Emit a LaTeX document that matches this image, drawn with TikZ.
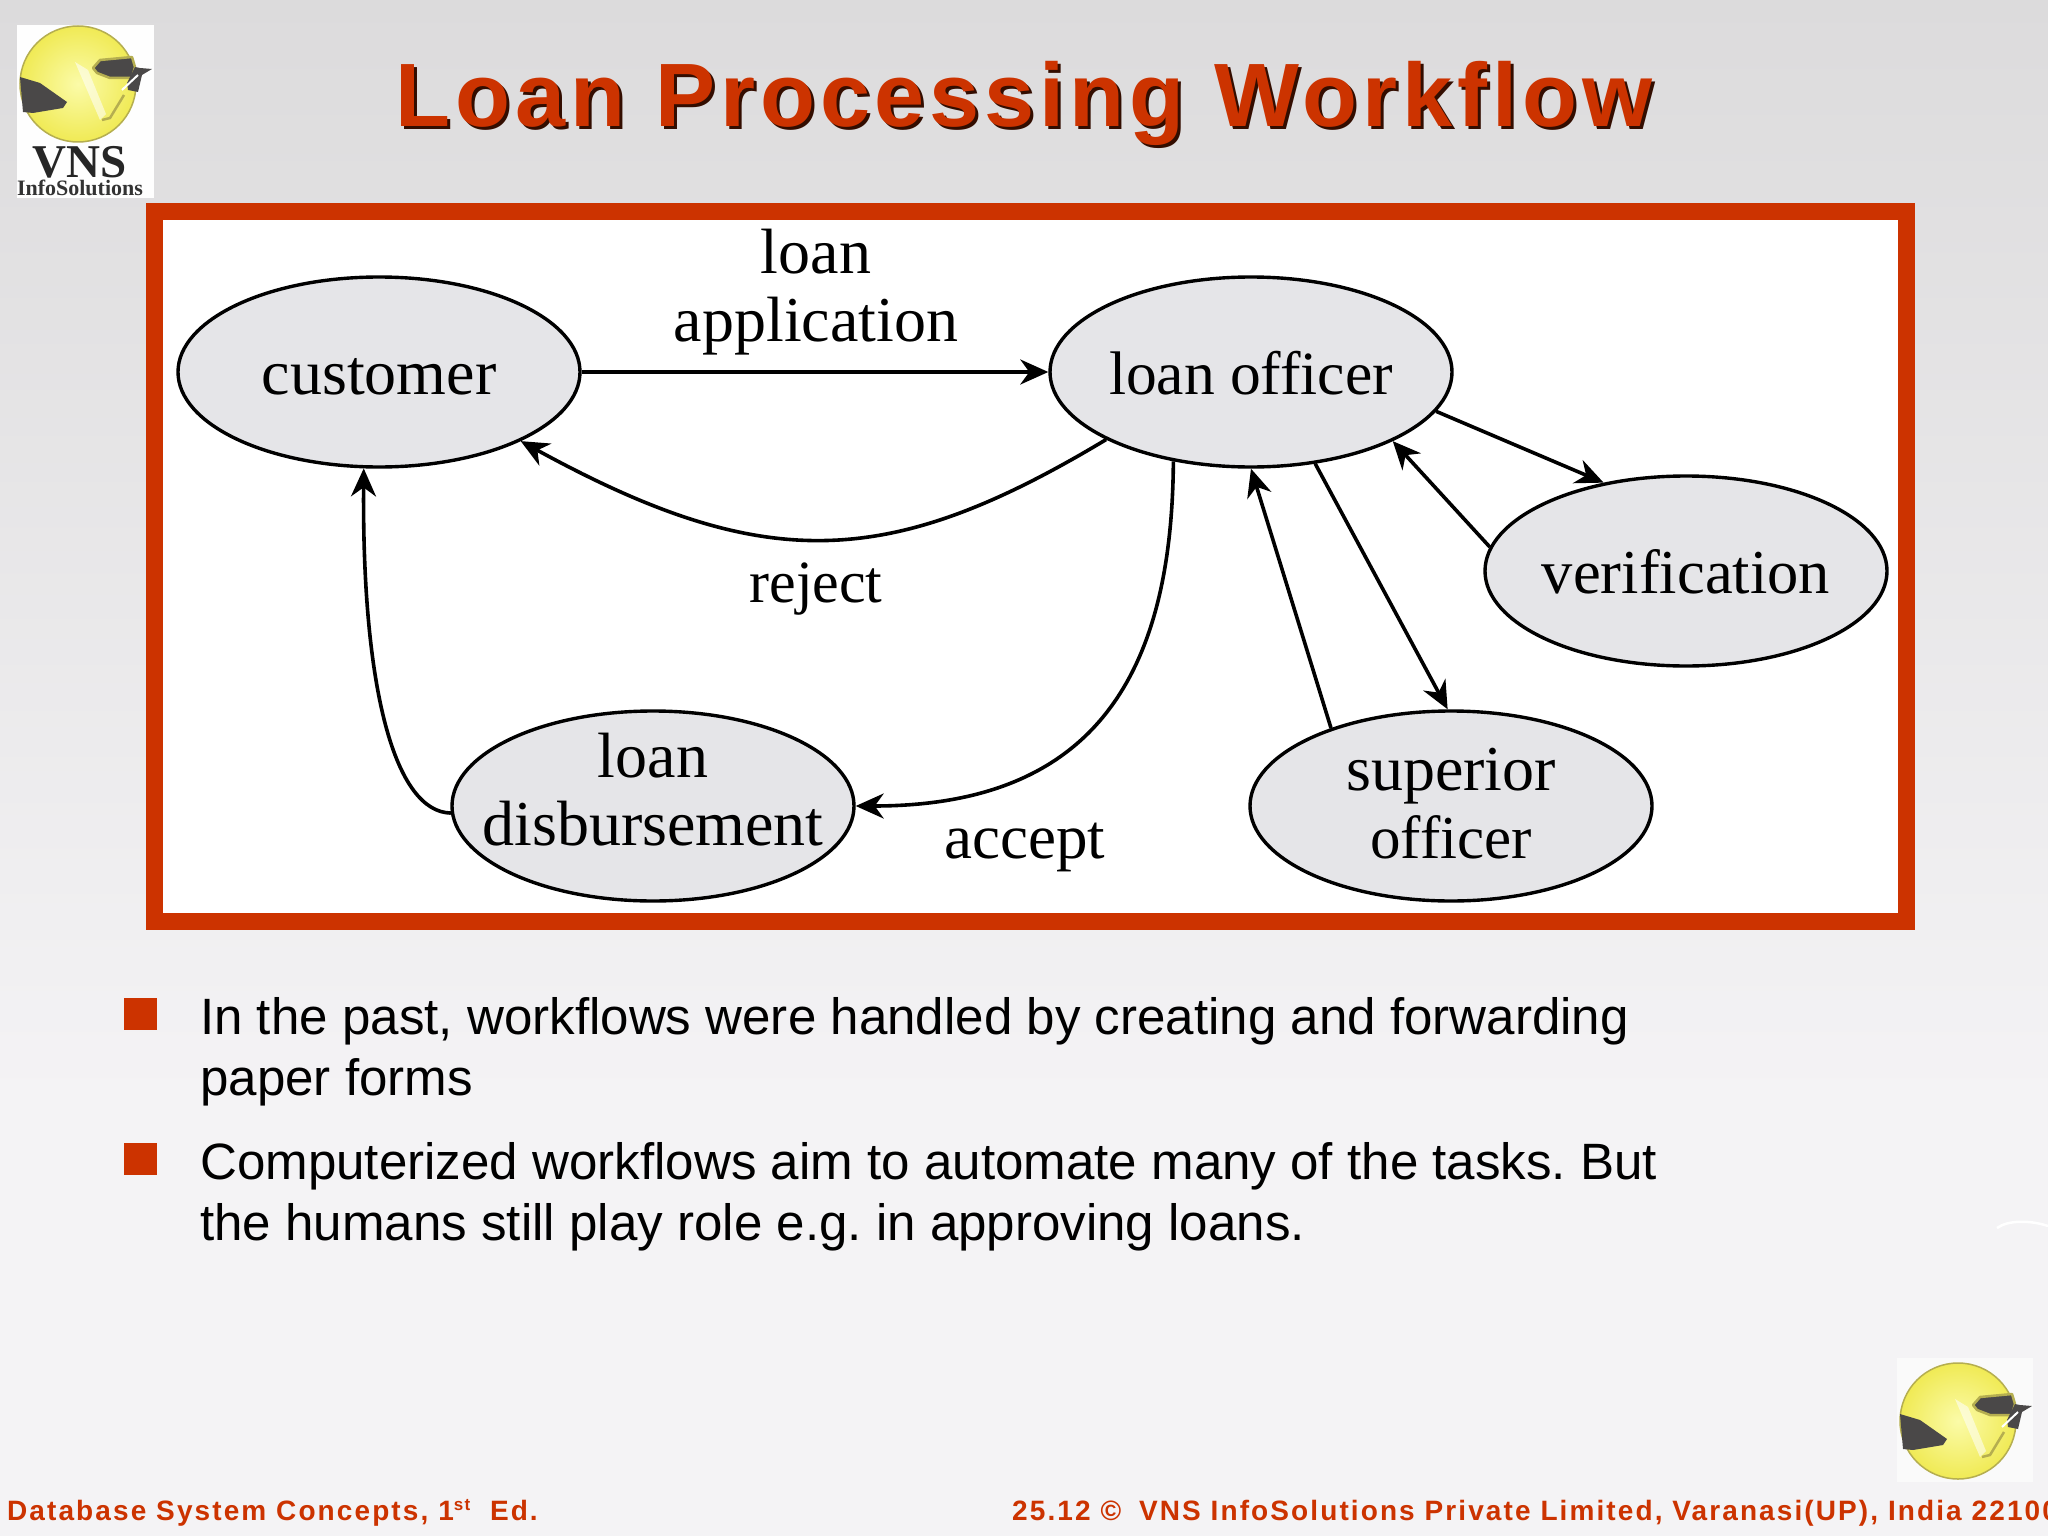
\documentclass[tikz,border=0pt]{standalone}
\usepackage{fontspec}
\usetikzlibrary{shapes.geometric,arrows.meta}
\setmainfont{Liberation Serif}
\newfontfamily\bodyfont{Liberation Sans}
\newfontfamily\titlefont[LetterSpace=5.45]{Liberation Sans}
\newfontfamily\footfont[LetterSpace=7.5]{Liberation Sans}
\definecolor{brick}{HTML}{CC3300}
\definecolor{ellfill}{HTML}{E5E5E8}
\definecolor{dimdark}{HTML}{4A4848}
\definecolor{bgtop}{HTML}{DCDBDC}
\definecolor{bgbottom}{HTML}{F4F3F5}
\definecolor{sunin}{HTML}{FBFBA8}
\definecolor{sunout}{HTML}{F0EA55}
\definecolor{sunedge}{HTML}{B5AE50}
\tikzset{
  state/.style={ellipse,draw=black,line width=3.4pt,fill=ellfill,minimum width=402pt,minimum height=190pt,inner xsep=-60pt,inner ysep=0pt,font=\fontsize{64}{68}\selectfont},
  tag/.style={anchor=base,inner sep=0pt,align=center,font=\fontsize{64}{68}\selectfont},
  flow/.style={line width=3.6pt,draw=black,-{Stealth[length=28pt,width=25pt,inset=9pt]}},
  bullettext/.style={anchor=north west,inner sep=0pt,align=left,font=\bodyfont\fontsize{51.1}{61.5}\selectfont,text=black},
  footer/.style={anchor=base west,inner sep=0pt,text=brick,font=\footfont\bfseries\fontsize{28}{32}\selectfont},
  bulletmark/.style={fill=brick}
}
% text lowered so that its last baseline lies #1 below the ellipse centre
\newcommand{\statetext}[2]{\raisebox{-#1}[0pt][0pt]{\parbox[b]{360pt}{\centering #2}}}
\newcommand{\vnsmark}[2]{%
\begin{scope}[shift={(#1,#2)}]
  \shade[inner color=sunin,outer color=sunout,draw=sunedge,line width=1.5pt] (78,84) circle (58);
  \fill[white,opacity=.55] (75,62) -- (88,70) -- (106,114) -- (100,120) -- cycle;
  \fill[dimdark] (20,77) -- (40,83) -- (67,102) -- (63,108) -- (33,113) -- (23,112) -- cycle;
  \draw[sunedge,line width=2.5pt,fill=dimdark,line join=round] (93,68) -- (100,60) -- (132,57) -- (135,67) -- (132,78) -- (110,78) -- (97,73) -- cycle;
  \fill[dimdark] (135,67) -- (140,68) -- (152,69) -- (142,75) -- (138,92) -- (128,90) -- (127,83) -- cycle;
  \draw[white,line width=2pt] (138,75) -- (122,90);
  \draw[sunedge,line width=2.5pt] (102,120) -- (110,118) -- (124,95);
\end{scope}}
\begin{document}
\frenchspacing
\begin{tikzpicture}[x=1pt,y=-1pt]
\useasboundingbox (0,0) rectangle (2048,1536);
% slide background
\shade[top color=bgtop,bottom color=bgbottom] (0,0) rectangle (2048,1100);
\fill[bgbottom] (0,1100) rectangle (2048,1536);
\draw[white,line width=2.5pt] (1997,1228) .. controls (2008,1220) and (2030,1220) .. (2048,1226);
% logos
\fill[white!90!bgbottom] (17,25) rectangle (154,198);
\fill[white!55!bgbottom] (1897,1358) rectangle (2033,1482);
\vnsmark{0}{0}
\vnsmark{1880}{1337}
\node[anchor=base,inner sep=0pt,text=black!85] (vnsname) at (80,178) {\fontsize{47}{47}\selectfont\bfseries VNS};
\node[anchor=base,inner sep=0pt,text=black!80] (vnssub) at (80,195) {\fontsize{22}{22}\selectfont\bfseries InfoSolutions};
% title
\node[anchor=base,inner sep=0pt,text=black!75!brick] (titleshadow) at (1027,130) {\titlefont\bfseries\fontsize{90}{100}\selectfont Loan Processing Workflow};
\node[anchor=base,inner sep=0pt,text=brick] (title) at (1024,127) {\titlefont\bfseries\fontsize{90}{100}\selectfont Loan Processing Workflow};
% frame
\fill[brick] (146,203) rectangle (1915,930);
\fill[white] (163,220) rectangle (1898,913);
% states
\node[state] (cu) at (379,372) {\statetext{22pt}{customer}};
\node[state] (lo) at (1251,372) {\statetext{22pt}{\fontsize{61.5}{68}\selectfont loan officer}};
\node[state] (ve) at (1686,571) {\statetext{22pt}{\fontsize{62.5}{68}\selectfont verification}};
\node[state] (su) at (1451,806) {\statetext{52pt}{superior\\{\fontsize{61}{68}\selectfont officer}}};
\node[state] (di) at (653,806) {\statetext{39pt}{loan\\disbursement}};
% connectors
\draw[flow] (cu.east) -- (lo.west);
\draw[flow] (lo.205) .. controls (889,570) and (765,575) .. (cu.334);
\draw[flow] (lo.229) .. controls (1172,680) and (1090,806) .. (di.east);
\draw[flow] (di.182) .. controls (395,812) and (362,690) .. (cu.261);
\draw[flow] (lo.348) -- (ve.133);
\draw[flow] (ve.173) -- (lo.334);
\draw[flow] (lo.305) -- (su.92);
\draw[flow] (su.147) -- (lo.270);
% labels
\node[tag] (lbapp) at (816,341) {loan\\application};
\node[tag] (lbrej) at (816,602) {\fontsize{60}{68}\selectfont reject};
\node[tag] (lbacc) at (1025,858) {\fontsize{63}{68}\selectfont accept};
% bullets
\fill[bulletmark] (124,998) rectangle (157,1030);
\fill[bulletmark] (124,1143) rectangle (157,1175);
\node[bullettext] (b1) at (200,997) {In the past, workflows were handled by creating and forwarding\\paper forms};
\node[bullettext] (b2) at (200,1142) {Computerized workflows aim to automate many of the tasks. But\\the humans still play role e.g. in approving loans.};
% footer
\node[footer] (fl) at (7,1520) {Database System Concepts, 1\raisebox{10pt}{\fontsize{17}{17}\selectfont st}\ \ Ed.};
\node[footer] (fr) at (1012,1520) {25.12 ©\hspace{8pt} VNS InfoSolutions Private Limited, Varanasi(UP), India 22100};
\end{tikzpicture}
\end{document}
